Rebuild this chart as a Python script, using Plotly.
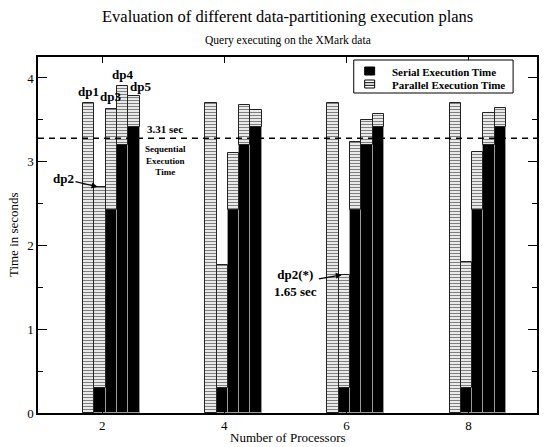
import plotly.graph_objects as go

processors = [2, 4, 6, 8]
plans = ["dp1", "dp2", "dp3", "dp4", "dp5"]
# serial execution time per plan (same for every processor count)
serial = {
    2: [0.0, 0.30, 2.42, 3.20, 3.42],
    4: [0.0, 0.30, 2.42, 3.20, 3.42],
    6: [0.0, 0.30, 2.42, 3.20, 3.42],
    8: [0.0, 0.30, 2.42, 3.20, 3.42],
}
# total time (serial + parallel) per plan
total = {
    2: [3.70, 2.70, 3.63, 3.90, 3.78],
    4: [3.70, 1.77, 3.10, 3.68, 3.62],
    6: [3.70, 1.65, 3.23, 3.50, 3.57],
    8: [3.70, 1.80, 3.12, 3.58, 3.64],
}
seq_time = 3.28
seq_label = "3.31 sec"
legend_names = ["Serial Execution Time", "Parallel Execution Time"]

FONT = "Liberation Serif"
bar_w = 0.185
first_off = -0.22

xs, ser, par = [], [], []
for p in processors:
    for i in range(len(plans)):
        xs.append(p + first_off + i * bar_w)
        ser.append(serial[p][i])
        par.append(total[p][i] - serial[p][i])

fig = go.Figure()
fig.add_trace(go.Bar(
    x=xs, y=ser, width=bar_w, name=legend_names[0], showlegend=False,
    marker=dict(color="black", line=dict(color="#9a9a9a", width=1)),
))
fig.add_trace(go.Bar(
    x=xs, y=par, base=ser, width=bar_w, name=legend_names[1], showlegend=False,
    marker=dict(color="white", line=dict(color="#222", width=1),
                pattern=dict(shape="-", fgcolor="black", bgcolor="white",
                             size=3, solidity=0.45)),
))

fig.add_shape(type="line", xref="paper", x0=0, x1=1, yref="y", y0=seq_time, y1=seq_time,
              line=dict(color="black", width=1.5, dash="6px,5px"))

# ---- legend drawn in paper coordinates (pixel helpers) ----
L, R, T, B = 38, 539, 57, 413
def px(x):
    return (x - L) / (R - L)
def py(y):
    return (B - y) / (B - T)

fig.add_shape(type="rect", xref="paper", yref="paper", x0=px(355), x1=px(515), y0=py(93), y1=py(60),
              line=dict(color="black", width=1), fillcolor="white", layer="above")
fig.add_shape(type="rect", xref="paper", yref="paper", x0=px(366), x1=px(376), y0=py(75), y1=py(67),
              line=dict(color="black", width=1), fillcolor="black", layer="above")
fig.add_shape(type="rect", xref="paper", yref="paper", x0=px(366), x1=px(376), y0=py(88), y1=py(80),
              line=dict(color="black", width=1), fillcolor="white", layer="above")
for yy in (82.7, 85.3):
    fig.add_shape(type="line", xref="paper", yref="paper", x0=px(366), x1=px(376), y0=py(yy), y1=py(yy),
                  line=dict(color="black", width=1), layer="above")

bold = dict(family=FONT, size=13, color="black")
ann = []

def bx(p, i):
    return p + first_off + i * bar_w

ann.append(dict(x=bx(2, 0), y=total[2][0], text="<b>dp1</b>", showarrow=False, yanchor="bottom", yshift=2))
ann.append(dict(x=bx(2, 2), y=total[2][2], text="<b>dp3</b>", showarrow=False, yanchor="bottom", yshift=3, xshift=-1))
ann.append(dict(x=bx(2, 3), y=total[2][3], text="<b>dp4</b>", showarrow=False, yanchor="bottom", yshift=2))
ann.append(dict(x=bx(2, 4), y=total[2][4], text="<b>dp5</b>", showarrow=False, yanchor="bottom", yshift=0, xshift=7))
ann.append(dict(x=bx(2, 1) - 0.04, y=total[2][1], text="<b>dp2</b>", showarrow=True, arrowhead=2,
                arrowsize=1, arrowwidth=1.2, arrowcolor="black", ax=-34, ay=-8))
ann.append(dict(x=bx(6, 1) - 0.04, y=total[6][1], text="<b>dp2(*)</b><br><b>1.65 sec</b>", showarrow=True,
                arrowhead=2, arrowsize=1, arrowwidth=1.2, arrowcolor="black", ax=-46, ay=8))
ann.append(dict(x=3.03, y=seq_time, text="<b>" + seq_label + "</b>", showarrow=False, yanchor="bottom",
                yshift=1, font=dict(family=FONT, size=11, color="black")))
ann.append(dict(x=3.03, y=seq_time, text="<b>Sequential<br>Execution<br>Time</b>", showarrow=False,
                yanchor="top", yshift=-4, font=dict(family=FONT, size=9, color="black")))
for a in ann:
    a.setdefault("font", bold)
    a["xref"] = "x"
    a["yref"] = "y"

leg_font = dict(family=FONT, size=11, color="black", weight="bold")
ann.append(dict(xref="paper", yref="paper", x=px(391), y=py(71.5), text=legend_names[0], showarrow=False,
                xanchor="left", yanchor="middle", font=leg_font))
ann.append(dict(xref="paper", yref="paper", x=px(391), y=py(84.5), text=legend_names[1], showarrow=False,
                xanchor="left", yanchor="middle", font=leg_font))

ann.append(dict(xref="paper", yref="paper", x=0.5, y=py(17), text="Evaluation of different data-partitioning execution plans",
                showarrow=False, font=dict(family=FONT, size=16.5, color="black"), yanchor="middle"))
ann.append(dict(xref="paper", yref="paper", x=0.5, y=py(41), text="Query executing on the XMark data",
                showarrow=False, font=dict(family=FONT, size=11.5, color="black"), yanchor="middle"))
ann.append(dict(xref="paper", yref="paper", x=px(13), y=0.5, text="Time in seconds", textangle=-90,
                showarrow=False, font=dict(family=FONT, size=13, color="black"), xanchor="center"))
ann.append(dict(xref="paper", yref="paper", x=0.5, y=py(437), text="Number of Processors",
                showarrow=False, font=dict(family=FONT, size=13, color="black"), yanchor="middle"))

fig.update_layout(
    width=547, height=447,
    margin=dict(l=L, r=547 - R, t=T, b=447 - B),
    paper_bgcolor="white", plot_bgcolor="white",
    barmode="overlay", bargap=0,
    font=dict(family=FONT, size=13, color="black"),
    annotations=ann,
    showlegend=False,
)
fig.update_xaxes(range=[0.95, 9.12], tickvals=processors, ticktext=[str(p) for p in processors],
                 ticks="inside", ticklen=6, tickcolor="black", showline=True, linecolor="black",
                 linewidth=1.5, mirror="ticks", showgrid=False, zeroline=False,
                 tickfont=dict(family=FONT, size=13))
fig.update_yaxes(range=[0, 4.25], tickvals=[0, 1, 2, 3, 4], ticks="inside", ticklen=9,
                 tickcolor="black", showline=True, linecolor="black", linewidth=1.5,
                 mirror="ticks", showgrid=False, zeroline=False,
                 minor=dict(dtick=0.5, ticks="inside", ticklen=5, tickcolor="black"),
                 tickfont=dict(family=FONT, size=13))

fig.write_html("out.html", post_script="document.body.style.margin='0';",
               config={"displayModeBar": False})
